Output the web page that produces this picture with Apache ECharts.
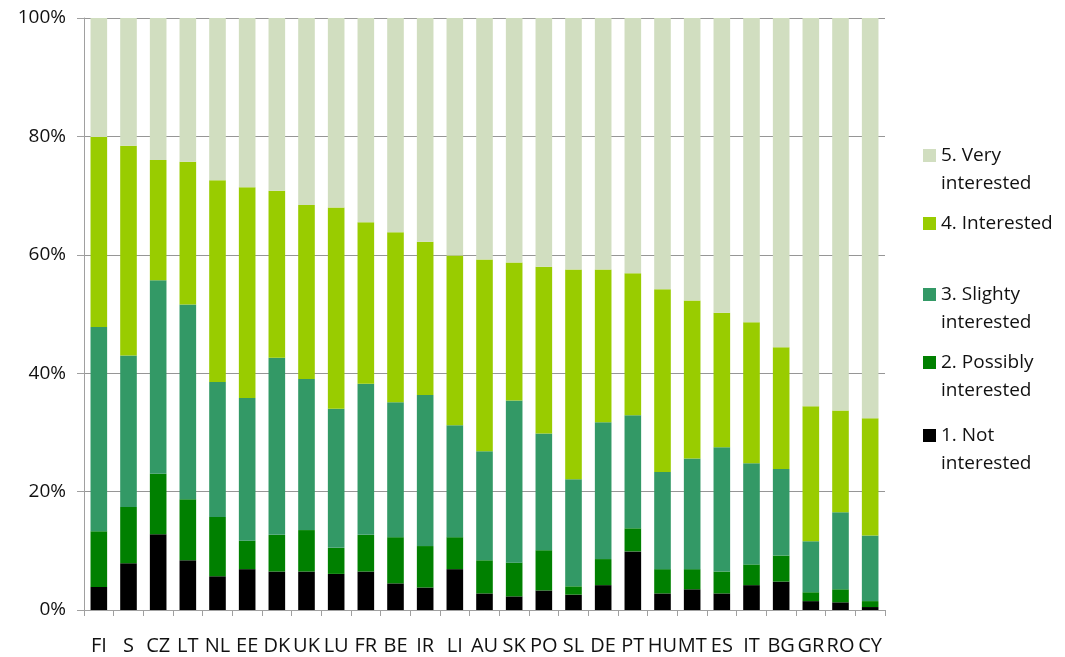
<!DOCTYPE html>
<html>
<head>
<meta charset="utf-8">
<title>Interest by country</title>
<script src="https://cdn.jsdelivr.net/npm/echarts@6/dist/echarts.min.js"></script>
<style>
  html, body { margin: 0; padding: 0; background: #ffffff; }
  #chart { width: 1065px; height: 657px; }
</style>
</head>
<body>
<div id="chart"></div>
<script>
// Countries along the x axis
const countries = ['FI','S','CZ','LT','NL','EE','DK','UK','LU','FR','BE','IR','LI','AU','SK','PO','SL','DE','PT','HU','MT','ES','IT','BG','GR','RO','CY'];

// Share of answers per country (%), bottom to top of each bar
const notInterested      = [3.9, 7.9, 12.8, 8.4, 5.7, 6.9, 6.5, 6.5, 6.1, 6.5, 4.5, 3.8, 6.9, 2.8, 2.3, 3.3, 2.6, 4.2, 9.9, 2.8, 3.5, 2.8, 4.2, 4.8, 1.5, 1.3, 0.5];
const possiblyInterested = [9.4, 9.5, 10.2, 10.3, 10.0, 4.8, 6.2, 7.0, 4.4, 6.2, 7.8, 7.0, 5.4, 5.6, 5.7, 6.8, 1.4, 4.4, 3.9, 4.1, 3.4, 3.7, 3.5, 4.4, 1.5, 2.2, 1.0];
const slightyInterested  = [34.5, 25.6, 32.7, 32.9, 22.8, 24.1, 29.9, 25.5, 23.5, 25.5, 22.8, 25.5, 18.9, 18.4, 27.4, 19.7, 18.1, 23.1, 19.1, 16.4, 18.7, 21.0, 17.1, 14.6, 8.6, 13.0, 11.1];
const interested         = [32.1, 35.4, 20.3, 24.1, 34.1, 35.6, 28.2, 29.4, 34.0, 27.3, 28.7, 25.9, 28.7, 32.4, 23.3, 28.2, 35.4, 25.8, 24.0, 30.9, 26.7, 22.7, 23.8, 20.6, 22.8, 17.2, 19.8];
const veryInterested     = [20.1, 21.6, 24.0, 24.3, 27.4, 28.6, 29.2, 31.6, 32.0, 34.5, 36.2, 37.8, 40.1, 40.8, 41.3, 42.0, 42.5, 42.5, 43.1, 45.8, 47.7, 49.8, 51.4, 55.6, 65.6, 66.3, 67.6];

// Y axis tick values (%)
const yTicks = [0, 20, 40, 60, 80, 100];

const seriesNames = ['1. Not interested', '2. Possibly interested', '3. Slighty interested', '4. Interested', '5. Very interested'];
const seriesData = [notInterested, possiblyInterested, slightyInterested, interested, veryInterested];
const seriesColors = ['#000000', '#008000', '#339966', '#99cc00', '#d1dec0'];

const FONT = 'Open Sans';

// Legend entries: name and top of the colour square
const legendSlots = [
  { name: '5. Very interested',     iconTop: 149, twoLine: true },
  { name: '4. Interested',          iconTop: 217, twoLine: false },
  { name: '3. Slighty interested',  iconTop: 288, twoLine: true },
  { name: '2. Possibly interested', iconTop: 356, twoLine: true },
  { name: '1. Not interested',      iconTop: 429, twoLine: true }
];
const LINE_H = 28;
const ICON = 13;

// Two-line entries get an empty first line so that the label's first line
// sits level with the colour square (legend text is centred on the square).
function legendLabel(name) {
  if (name === '4. Interested') return name;
  const i = name.lastIndexOf(' ');
  return ' \n' + name.slice(0, i) + '\n' + name.slice(i + 1);
}

const legends = legendSlots.map(s => {
  const lines = s.twoLine ? 3 : 1;
  const blockH = lines * LINE_H;
  const boxTop = Math.min(0, ICON / 2 - blockH / 2);
  return {
    data: [s.name],
    orient: 'vertical',
    left: 923,
    top: s.iconTop + boxTop,
    padding: 0,
    itemWidth: ICON,
    itemHeight: ICON,
    icon: 'rect',
    selectedMode: false,
    formatter: legendLabel,
    textStyle: {
      fontFamily: FONT,
      fontSize: 19,
      color: '#111',
      lineHeight: LINE_H
    }
  };
});

const option = {
  backgroundColor: '#ffffff',
  animation: false,
  grid: { left: 84, right: 180, top: 18, bottom: 47, containLabel: false },
  legend: legends,
  xAxis: {
    type: 'category',
    data: countries,
    axisLine: { lineStyle: { color: '#a0a0a0', width: 1 } },
    axisTick: { show: true, length: 6, lineStyle: { color: '#a0a0a0' } },
    axisLabel: { interval: 0, margin: 26, fontFamily: FONT, fontSize: 20, color: '#111' }
  },
  yAxis: {
    type: 'value',
    min: yTicks[0],
    max: yTicks[yTicks.length - 1],
    interval: yTicks[1] - yTicks[0],
    axisLine: { show: true, lineStyle: { color: '#a0a0a0' } },
    axisTick: { show: true, length: 7, lineStyle: { color: '#a0a0a0' } },
    axisLabel: { margin: 18, fontFamily: FONT, fontSize: 19, color: '#111', formatter: '{value}%' },
    splitLine: { lineStyle: { color: '#969696', width: 1 } }
  },
  series: seriesNames.map((name, k) => ({
    name: name,
    type: 'bar',
    stack: 'share',
    barWidth: '56%',
    itemStyle: { color: seriesColors[k] },
    emphasis: { disabled: true },
    data: seriesData[k]
  }))
};

const chart = echarts.init(document.getElementById('chart'), null, { renderer: 'canvas' });
chart.setOption(option);
</script>
</body>
</html>
